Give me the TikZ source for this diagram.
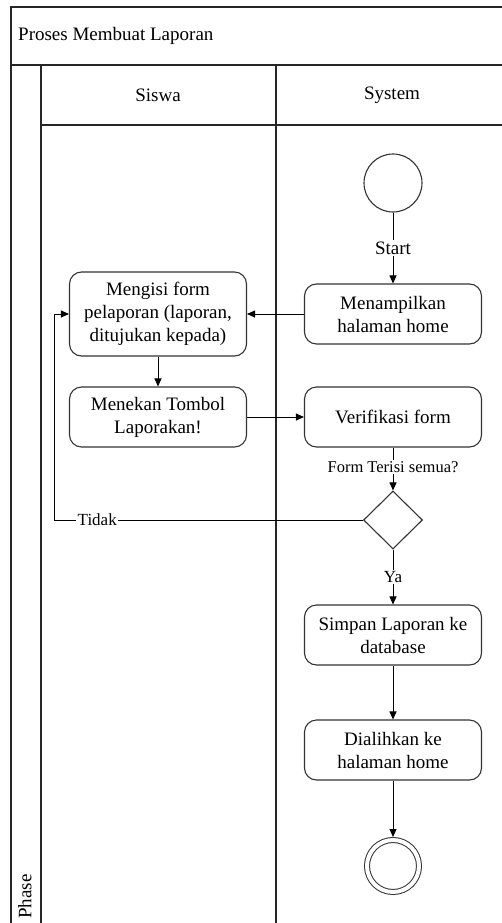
\documentclass[tikz,border=0pt]{standalone}
\usepackage{fontspec}
\setmainfont{Liberation Serif}
\usetikzlibrary{arrows.meta, positioning, shapes.geometric}

\begin{document}
\begin{tikzpicture}[
    x=1pt, y=-1pt,
    >={Triangle[length=8pt, width=7pt]},
    font=\fontsize{19}{23}\selectfont,
    lane/.style={draw=black!85, line width=1.1pt},
    act/.style={draw=black!80, line width=1.1pt, rounded corners=12pt, rectangle, minimum width=177pt, minimum height=60pt, align=center, inner sep=2pt},
    initial/.style={draw=black!80, line width=1.1pt, circle, minimum size=58pt, inner sep=0pt},
    final/.style={draw=black!80, line width=1pt, circle, double, double distance=4pt, minimum size=52pt, inner sep=0pt, outer sep=3pt},
    decision/.style={draw=black!80, line width=1.1pt, diamond, minimum width=59pt, minimum height=58pt, inner sep=0pt},
    guard/.style={fill=white, inner sep=1.5pt},
    arr/.style={->, line width=1pt},
    flow/.style={line width=1pt}
]

\useasboundingbox (0,0) rectangle (502,923);

\draw[lane] (11,923) -- (11,7) -- (502,7);
\draw[lane] (11,65) -- (502,65);
\draw[lane] (41,65) -- (41,923);
\draw[lane] (276,65) -- (276,923);
\draw[lane] (41,125) -- (502,125);

\node[anchor=west, inner sep=0pt] (judul) at (18,36) {Proses Membuat Laporan};
\node (siswa) at (158,95) {Siswa};
\node (sistem) at (392,95) {System};
\node[rotate=90, anchor=west, inner sep=0pt] (fase) at (25,919) {Phase};

\node[initial] (mulai) at (393,183) {};
\node[guard] (lblmulai) at (393,248) {Start};
\node[act] (tampil) at (393,314) {Menampilkan\\halaman home};
\node[act, minimum height=84pt] (isi) at (158,314) {Mengisi form\\pelaporan (laporan,\\ditujukan kepada)};
\node[act] (tekan) at (158,417) {Menekan Tombol\\Laporakan!};
\node[act] (verif) at (393,417) {Verifikasi form};
\node[guard, font=\fontsize{16.5}{19}\selectfont] (lblcek) at (393,467) {Form Terisi semua?};
\node[decision] (cek) at (393,520) {};
\node[guard, font=\fontsize{17}{20}\selectfont] (lblya) at (393,577) {Ya};
\node[act] (simpan) at (393,635) {Simpan Laporan ke\\database};
\node[act] (alih) at (393,750) {Dialihkan ke\\halaman home};
\node[final] (selesai) at (393,866) {};
\coordinate (balik) at (54,520);

\draw[flow] (mulai) -- (lblmulai);
\draw[arr] (lblmulai) -- (tampil);
\draw[arr] (tampil) -- (isi);
\draw[arr] (isi) -- (tekan);
\draw[arr] (tekan) -- (verif);
\draw[flow] (verif) -- (lblcek);
\draw[arr] (lblcek) -- (cek);
\draw[flow] (cek) -- (lblya);
\draw[arr] (lblya) -- (simpan);
\draw[arr] (simpan) -- (alih);
\draw[arr] (alih) -- (selesai);
\draw[arr] (cek.west) -- node[guard, pos=0.86, font=\fontsize{17}{20}\selectfont] (lbltidak) {Tidak} (balik) |- (isi.west);

\end{tikzpicture}
\end{document}
